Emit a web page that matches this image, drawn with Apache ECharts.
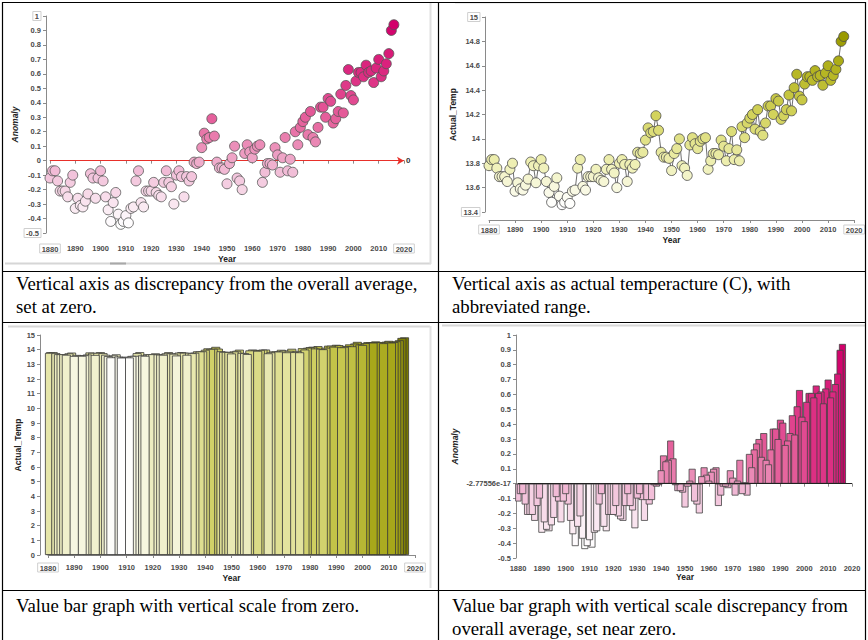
<!DOCTYPE html>
<html>
<head>
<meta charset="utf-8">
<script src="https://cdn.jsdelivr.net/npm/echarts@6/dist/echarts.min.js"></script>
<style>
html,body{margin:0;padding:0;background:#fff;}
#main{width:868px;height:640px;}
</style>
</head>
<body>
<div id="main"></div>
<script>
const years = [
1880,1881,1882,1883,1884,1885,1886,1887,1888,1889,
1890,1891,1892,1893,1894,1895,1896,1897,1898,1899,
1900,1901,1902,1903,1904,1905,1906,1907,1908,1909,
1910,1911,1912,1913,1914,1915,1916,1917,1918,1919,
1920,1921,1922,1923,1924,1925,1926,1927,1928,1929,
1930,1931,1932,1933,1934,1935,1936,1937,1938,1939,
1940,1941,1942,1943,1944,1945,1946,1947,1948,1949,
1950,1951,1952,1953,1954,1955,1956,1957,1958,1959,
1960,1961,1962,1963,1964,1965,1966,1967,1968,1969,
1970,1971,1972,1973,1974,1975,1976,1977,1978,1979,
1980,1981,1982,1983,1984,1985,1986,1987,1988,1989,
1990,1991,1992,1993,1994,1995,1996,1997,1998,1999,
2000,2001,2002,2003,2004,2005,2006,2007,2008,2009,
2010,2011,2012,2013,2014,2015,2016];

const anomaly = [
-0.12,-0.07,-0.07,-0.14,-0.21,-0.21,-0.21,-0.25,-0.15,-0.10,
-0.33,-0.26,-0.31,-0.32,-0.28,-0.23,-0.09,-0.12,-0.26,-0.12,
-0.07,-0.14,-0.25,-0.34,-0.42,-0.29,-0.22,-0.37,-0.44,-0.42,
-0.38,-0.43,-0.33,-0.32,-0.14,-0.07,-0.29,-0.32,-0.21,-0.21,
-0.21,-0.15,-0.22,-0.24,-0.25,-0.15,-0.07,-0.15,-0.18,-0.30,
-0.10,-0.07,-0.11,-0.25,-0.11,-0.14,-0.11,-0.01,-0.02,-0.01,
0.09,0.19,0.15,0.16,0.29,0.17,-0.01,-0.05,-0.05,-0.06,
-0.16,-0.02,0.02,0.10,-0.12,-0.14,-0.20,0.05,0.11,0.06,
0.02,0.08,0.10,0.11,-0.15,-0.08,-0.02,-0.02,-0.03,0.09,
0.04,-0.08,0.02,0.16,-0.07,0.01,-0.08,0.20,0.11,0.23,
0.27,0.30,0.18,0.34,0.16,0.13,0.23,0.37,0.37,0.30,
0.43,0.41,0.26,0.29,0.34,0.46,0.33,0.52,0.63,0.45,
0.42,0.55,0.61,0.61,0.58,0.66,0.61,0.62,0.54,0.64,
0.70,0.58,0.62,0.67,0.74,0.90,0.94];

const actualTemp = [
13.78,13.83,13.83,13.76,13.69,13.69,13.69,13.65,13.75,13.80,
13.57,13.64,13.59,13.58,13.62,13.67,13.81,13.78,13.64,13.78,
13.83,13.76,13.65,13.56,13.48,13.61,13.68,13.53,13.46,13.48,
13.52,13.47,13.57,13.58,13.76,13.83,13.61,13.58,13.69,13.69,
13.69,13.75,13.68,13.66,13.65,13.75,13.83,13.75,13.72,13.60,
13.80,13.83,13.79,13.65,13.79,13.76,13.79,13.89,13.88,13.89,
13.99,14.09,14.05,14.06,14.19,14.07,13.89,13.85,13.85,13.84,
13.74,13.88,13.92,14.00,13.78,13.76,13.70,13.95,14.01,13.96,
13.92,13.98,14.00,14.01,13.75,13.82,13.88,13.88,13.87,13.99,
13.94,13.82,13.92,14.06,13.83,13.91,13.82,14.10,14.01,14.13,
14.17,14.20,14.08,14.24,14.06,14.03,14.13,14.27,14.27,14.20,
14.33,14.31,14.16,14.19,14.24,14.36,14.23,14.42,14.53,14.35,
14.32,14.45,14.51,14.51,14.48,14.56,14.51,14.52,14.44,14.54,
14.60,14.48,14.52,14.57,14.64,14.80,14.84];

const captions = [
  ["Vertical axis as discrepancy from the overall average,", "set at zero."],
  ["Vertical axis as actual temperacture (C), with", "abbreviated range."],
  ["Value bar graph with vertical scale from zero."],
  ["Value bar graph with vertical scale discrepancy from", "overall average, set near zero."]
];
const zeroLabel = "-2.77556e-17";

const anomPairs = years.map((y, i) => [y, anomaly[i]]);
const tempPairs = years.map((y, i) => [y, actualTemp[i]]);
// bars nearer the base are drawn last (on top), as in the overlapping original
const byMagnitude = arr => arr.slice().sort((a, b) => Math.abs(b[1]) - Math.abs(a[1]));
const tempBars = byMagnitude(tempPairs);
const anomBars = byMagnitude(anomPairs);
const aMin = Math.min(...anomaly), aMax = Math.max(...anomaly);
const tMin = Math.min(...actualTemp), tMax = Math.max(...actualTemp);

const lblBase = {fontSize: 7.5, color: '#4a4a4a', fontFamily: 'Liberation Sans, Arial', fontWeight: 'bold'};
const boxRich = {b: {fontSize: 7.5, color: '#4a4a4a', fontFamily: 'Liberation Sans, Arial', fontWeight: 'bold', borderColor: '#cfcfcf', borderWidth: 1, padding: [1, 2, 0, 2]}};
const nameStyle = {fontSize: 8.5, color: '#222', fontFamily: 'Liberation Sans, Arial', fontWeight: 'bold'};
const axLine = {show: true, lineStyle: {color: '#8a8a8a', width: 1}};
const axTick = {show: true, length: 3, lineStyle: {color: '#8a8a8a'}};
const fmt1 = v => String(+(+v).toFixed(1));
const near = (a, b) => Math.abs(a - b) < 1e-6;

function xAx(gi, offset, gap, boxed) {
  return {
    type: 'value', gridIndex: gi, min: 1880, max: 2020, interval: 10, offset: offset,
    name: 'Year', nameLocation: 'middle', nameGap: gap, nameTextStyle: nameStyle,
    axisLine: axLine, axisTick: axTick, splitLine: {show: false},
    axisLabel: Object.assign({}, lblBase, {margin: 5, rich: boxRich,
      formatter: v => (boxed && (v === 1880 || v === 2020)) ? '{b|' + v + '}' : String(v)})
  };
}
function yAx(gi, min, max, interval, offset, name, gap, italic, fmt) {
  return {
    type: 'value', gridIndex: gi, min: min, max: max, interval: interval, offset: offset,
    name: name, nameLocation: 'middle', nameGap: gap,
    nameTextStyle: Object.assign({}, nameStyle, {fontStyle: italic ? 'italic' : 'normal'}),
    axisLine: axLine, axisTick: axTick, splitLine: {show: false},
    axisLabel: Object.assign({}, lblBase, {margin: 5, rich: boxRich, formatter: fmt})
  };
}

const graphics = [];
function hline(x1, x2, y, color, w) {
  graphics.push({type: 'line', silent: true, z: 100, shape: {x1: x1, y1: y, x2: x2, y2: y}, style: {stroke: color, lineWidth: w}});
}
function vline(x, y1, y2, color, w) {
  graphics.push({type: 'line', silent: true, z: 100, shape: {x1: x, y1: y1, x2: x, y2: y2}, style: {stroke: color, lineWidth: w}});
}
// light screenshot frames
hline(5, 431, 263.5, '#d6d6d6', 2);
hline(110, 126, 263.5, '#a8a8a8', 2);
vline(430.5, 3, 264, '#e0e0e0', 2);
hline(8, 430, 326.5, '#d8d8d8', 2);
vline(430.5, 326, 588, '#e2e2e2', 2);
hline(442, 866, 325.5, '#d8d8d8', 2);
hline(455, 866, 3.5, '#eeeeee', 1);
// table lines
hline(2, 866, 2.5, '#000', 1.2);
vline(2.5, 2, 640, '#000', 1.2);
vline(865.5, 2, 640, '#000', 1.2);
vline(438.5, 2, 640, '#000', 1.2);
hline(2, 866, 271.5, '#000', 1.2);
hline(2, 866, 322.5, '#000', 1.2);
hline(2, 866, 590.5, '#000', 1.2);
// captions
const capPos = [[16, 285], [452, 285], [16, 607], [452, 607]];
captions.forEach((lines, ci) => {
  lines.forEach((t, li) => {
    graphics.push({type: 'text', silent: true, z: 100, left: capPos[ci][0], top: capPos[ci][1] + li * 22.5 - 11,
      style: {text: t, font: '18.8px "Liberation Serif", "Times New Roman", serif', fill: '#000'}});
  });
});

const option = {
  animation: false,
  backgroundColor: '#fff',
  graphic: graphics,
  grid: [
    {left: 50, top: 16, width: 354, height: 217},
    {left: 489, top: 17, width: 367, height: 195},
    {left: 48, top: 335, width: 367, height: 220},
    {left: 518, top: 335, width: 334, height: 223}
  ],
  xAxis: [
    xAx(0, 6, 12, true),
    xAx(1, 8, 12, true),
    xAx(2, 3, 12, true),
    xAx(3, 1, 12, false)
  ],
  yAxis: [
    yAx(0, -0.5, 1, 0.1, 4, 'Anomaly', 19, true, v => (near(v, 1) || near(v, -0.5)) ? '{b|' + fmt1(v) + '}' : fmt1(v)),
    yAx(1, 13.4, 15, 0.2, 4, 'Actual_Temp', 25, false, v => (near(v, 15) || near(v, 13.4)) ? '{b|' + fmt1(v) + '}' : fmt1(v)),
    yAx(2, 0, 15, 1, 8, 'Actual_Temp', 16, false, v => String(v)),
    yAx(3, -0.5, 1, 0.1, 2, 'Anomaly', 57, true, v => near(v, 0) ? zeroLabel : fmt1(v))
  ],
  visualMap: [
    {show: false, type: 'continuous', seriesIndex: 0, dimension: 1, min: aMin, max: aMax,
     inRange: {color: ['#ffffff', '#f2c2da', '#e6679f', '#dc2c82', '#d2006b']}},
    {show: false, type: 'continuous', seriesIndex: 2, dimension: 1, min: tMin, max: tMax,
     inRange: {color: ['#ffffff', '#eeefb2', '#d6d664', '#baba28', '#9a9a00']}},
    {show: false, type: 'continuous', seriesIndex: 3, dimension: 1, min: tMin, max: tMax,
     inRange: {color: ['#ffffff', '#e4e4a2', '#c8c850', '#a6a618', '#787800']}},
    {show: false, type: 'continuous', seriesIndex: 4, dimension: 1, min: aMin, max: aMax,
     inRange: {color: ['#ffffff', '#f1bcd7', '#e5689f', '#dc2c82', '#d1006a']}}
  ],
  series: [
    {type: 'scatter', xAxisIndex: 0, yAxisIndex: 0, data: anomPairs, symbolSize: 10,
     itemStyle: {borderColor: '#555', borderWidth: 0.8, opacity: 1},
     markLine: {silent: true, symbol: ['none', 'arrow'], symbolSize: [6, 7], z: 1,
       lineStyle: {color: '#e8302a', width: 1, type: 'solid'},
       label: {show: true, position: 'end', formatter: '0', color: '#333', fontSize: 8, fontWeight: 'bold', distance: 2},
       data: [{yAxis: 0}]}},
    {type: 'line', xAxisIndex: 1, yAxisIndex: 1, data: tempPairs, symbol: 'none',
     lineStyle: {color: '#4a4a4a', width: 0.8}, z: 1},
    {type: 'scatter', xAxisIndex: 1, yAxisIndex: 1, data: tempPairs, symbolSize: 10, z: 2,
     itemStyle: {borderColor: '#4a4a4a', borderWidth: 0.8, opacity: 1}},
    {type: 'bar', xAxisIndex: 2, yAxisIndex: 2, data: tempBars, barWidth: 9,
     itemStyle: {borderColor: '#3a3a3a', borderWidth: 0.8}},
    {type: 'bar', xAxisIndex: 3, yAxisIndex: 3, data: anomBars, barWidth: 7,
     itemStyle: {borderColor: '#444', borderWidth: 0.8},
     markLine: {silent: true, symbol: ['none', 'none'], z: 5,
       lineStyle: {color: '#222', width: 1, type: 'solid'}, label: {show: false},
       data: [{yAxis: 0}]}}
  ]
};
const chart = echarts.init(document.getElementById('main'), null, {renderer: 'svg'});
chart.setOption(option);
</script>
</body>
</html>
